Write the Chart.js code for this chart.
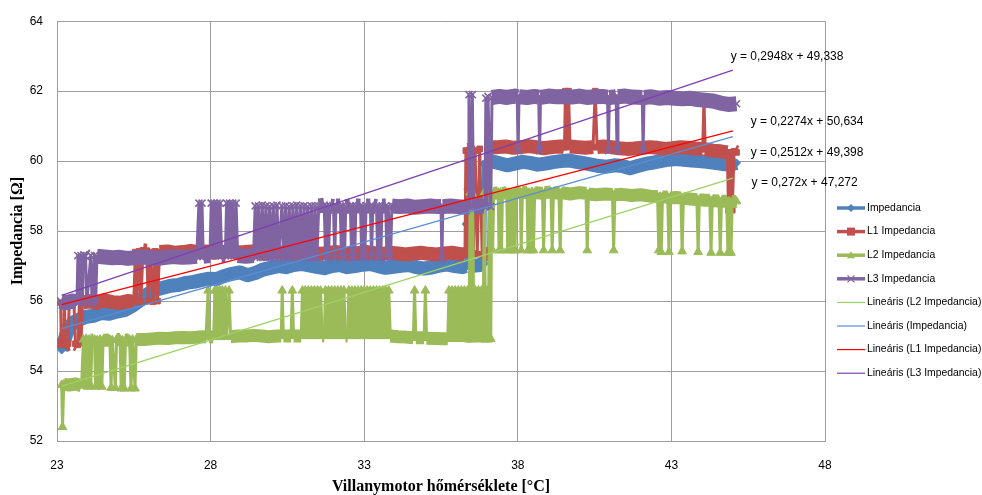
<!DOCTYPE html>
<html lang="hu">
<head>
<meta charset="utf-8">
<title>Impedancia – villanymotor hőmérséklete</title>
<script src="https://cdn.jsdelivr.net/npm/chart.js@4.4.1/dist/chart.umd.min.js"></script>
<style>
  html, body { margin: 0; padding: 0; background: #ffffff; }
  #wrap { position: relative; width: 982px; height: 495px; }
</style>
</head>
<body>
<div id="wrap"><canvas id="chart" width="982" height="495"></canvas></div>
<script>
// Axis ticks
const xTicks = [23, 28, 33, 38, 43, 48];
const yTicks = [52, 54, 56, 58, 60, 62, 64];

// Measured series: [motor temperature °C, impedance Ω]
const impedancia = [
  [23.15,54.60],[23.22,54.80],[23.30,55.05],[23.40,55.25],[23.55,55.40],[23.75,55.48],[23.95,55.55],
  [24.20,55.58],[24.45,55.66],[24.70,55.64],[24.95,55.70],[25.20,55.74],[25.45,55.86],[25.70,56.02],
  [25.95,56.20],[26.20,56.32],[26.45,56.38],[26.70,56.44],[26.95,56.46],[27.20,56.52],[27.45,56.55],
  [27.70,56.60],[27.95,56.64],[28.20,56.63],[28.45,56.72],[28.70,56.78],[28.95,56.82],[29.20,56.74],
  [29.45,56.80],[29.70,56.90],[29.95,56.95],[30.20,57.00],[30.45,56.97],[30.70,57.03],[30.95,57.06],
  [31.20,57.02],[31.45,56.98],[31.70,56.94],[31.95,57.00],[32.20,57.03],[32.45,56.97],[32.70,57.00],
  [32.95,57.04],[33.20,57.06],[33.45,57.00],[33.70,56.95],[33.95,56.98],[34.20,57.01],[34.45,57.03],
  [34.70,56.97],[34.95,56.93],[35.20,56.96],[35.45,57.01],[35.70,57.05],[35.95,57.00],[36.20,56.97],
  [36.30,57.00],[36.32,58.20],[36.34,57.00],[36.37,59.20],[36.40,57.02],[36.43,60.05],[36.46,57.00],
  [36.70,57.02],[36.85,57.05],[36.88,59.92],[36.92,57.08],[36.96,59.95],[37.15,60.00],[37.40,59.94],
  [37.65,59.88],[37.90,59.93],[38.15,59.98],[38.40,59.95],[38.65,59.90],[38.90,59.93],[39.15,59.97],
  [39.40,60.00],[39.65,60.02],[39.90,59.98],[40.15,59.94],[40.40,59.90],[40.65,59.86],[40.90,59.84],
  [41.15,59.88],[41.40,59.86],[41.65,59.80],[41.90,59.86],[42.15,59.92],[42.40,59.96],[42.65,60.00],
  [42.90,60.04],[43.15,60.06],[43.40,60.04],[43.65,60.02],[43.90,60.00],[44.15,59.98],[44.40,59.95],
  [44.65,59.92],[44.90,59.90],[45.12,59.95]
];

const l1Impedancia = [
  [23.12,55.95],[23.14,54.75],[23.20,54.80],[23.24,55.95],[23.28,54.75],[23.36,54.78],[23.40,55.98],
  [23.55,56.00],[23.60,54.78],[23.68,54.75],[23.73,56.00],[23.78,54.80],[23.83,55.95],[24.05,56.00],
  [24.30,55.95],[24.55,56.02],[24.80,55.97],[25.05,55.95],[25.30,56.00],[25.50,55.98],[25.55,57.40],
  [25.60,56.00],[25.67,57.42],[25.73,55.98],[25.80,57.45],[25.92,57.44],[25.97,56.00],[26.05,57.40],
  [26.12,55.98],[26.20,57.42],[26.27,56.00],[26.34,57.40],[26.60,57.42],[26.85,57.38],[27.10,57.40],
  [27.35,57.43],[27.60,57.40],[27.85,57.42],[28.10,57.38],[28.35,57.40],[28.60,57.42],[28.85,57.39],
  [29.10,57.40],[29.35,57.42],[29.60,57.38],[29.85,57.36],[30.10,57.40],[30.35,57.38],[30.60,57.35],
  [30.85,57.38],[31.10,57.40],[31.35,57.37],[31.60,57.35],[31.85,57.38],[32.10,57.40],[32.35,57.36],
  [32.60,57.34],[32.85,57.38],[33.10,57.40],[33.35,57.37],[33.60,57.35],[33.85,57.38],[34.10,57.36],
  [34.35,57.33],[34.60,57.36],[34.85,57.38],[35.10,57.35],[35.35,57.33],[35.60,57.36],[35.85,57.38],
  [36.10,57.35],[36.28,57.33],[36.31,60.30],[36.37,57.38],[36.41,60.32],[36.50,60.35],[36.55,57.36],
  [36.61,60.30],[36.68,57.34],[36.76,60.35],[36.84,57.33],[37.05,57.35],[37.10,60.40],[37.35,60.40],
  [37.60,60.42],[37.85,60.38],[38.10,60.40],[38.35,60.43],[38.60,60.40],[38.85,60.37],[39.10,60.40],
  [39.40,60.42],[39.52,60.40],[39.55,62.00],[39.60,60.40],[39.65,62.00],[39.70,60.42],[39.95,60.40],
  [40.20,60.38],[40.45,60.40],[40.52,62.00],[40.58,60.40],[40.80,60.42],[41.05,60.40],[41.30,60.37],
  [41.55,60.35],[41.80,60.36],[42.05,60.38],[42.30,60.40],[42.55,60.38],[42.80,60.35],[43.05,60.37],
  [43.30,60.40],[43.55,60.38],[43.80,60.36],[44.02,60.35],[44.06,61.85],[44.10,60.34],[44.35,60.30],
  [44.60,60.28],[44.82,60.25],[44.86,58.60],[44.92,60.25],[44.98,58.60],[45.04,60.28],[45.12,60.25]
];

const l2Impedancia = [
  [23.15,53.60],[23.18,52.40],[23.22,53.62],[23.40,53.60],[23.60,53.63],[23.80,53.58],[23.86,54.90],
  [23.90,53.60],[23.95,54.92],[24.00,53.55],[24.05,54.90],[24.10,53.58],[24.14,54.88],[24.22,54.90],
  [24.26,53.55],[24.31,54.88],[24.36,53.58],[24.40,54.90],[24.46,53.55],[24.50,54.88],[24.60,54.88],
  [24.72,54.90],[24.76,53.52],[24.80,54.88],[24.90,53.52],[24.94,54.90],[25.05,54.90],[25.09,53.50],
  [25.13,54.88],[25.19,53.50],[25.23,54.88],[25.36,54.90],[25.41,53.50],[25.46,54.90],[25.54,53.50],
  [25.58,54.90],[25.85,54.90],[26.10,54.92],[26.35,54.94],[26.60,54.93],[26.85,54.95],[27.10,54.96],
  [27.35,54.95],[27.60,54.97],[27.85,54.98],[27.92,56.30],[27.96,54.98],[28.10,54.97],[28.14,56.30],
  [28.18,54.98],[28.22,56.30],[28.26,54.98],[28.30,56.30],[28.34,54.97],[28.38,56.30],[28.42,54.98],
  [28.48,56.30],[28.52,54.98],[28.60,56.30],[28.65,54.98],[28.90,55.00],[29.15,55.00],[29.40,55.02],
  [29.65,55.00],[29.90,54.98],[30.15,55.00],[30.30,55.00],[30.33,56.30],[30.37,55.00],[30.62,55.00],
  [30.66,56.30],[30.70,55.00],[30.95,55.00],[30.99,56.30],[31.03,55.00],[31.08,56.30],[31.13,55.00],
  [31.18,56.30],[31.23,55.00],[31.28,56.30],[31.33,55.00],[31.38,56.30],[31.43,55.00],[31.48,56.30],
  [31.53,55.00],[31.58,56.30],[31.63,55.00],[31.70,55.00],[31.74,56.30],[31.79,55.00],[31.84,56.30],
  [31.89,55.00],[31.94,56.30],[31.99,55.00],[32.04,56.30],[32.09,55.00],[32.14,56.30],[32.19,55.00],
  [32.24,56.30],[32.29,55.00],[32.34,56.30],[32.39,55.00],[32.46,55.00],[32.50,56.30],[32.55,55.00],
  [32.60,56.30],[32.65,55.00],[32.70,56.30],[32.75,55.00],[32.80,56.30],[32.85,55.00],[32.90,56.30],
  [32.95,55.00],[33.00,56.30],[33.05,55.00],[33.10,56.30],[33.15,55.00],[33.20,56.30],[33.25,55.00],
  [33.30,56.30],[33.35,55.00],[33.40,56.30],[33.45,55.00],[33.50,56.30],[33.55,55.00],[33.60,56.30],
  [33.65,55.00],[33.70,56.30],[33.75,55.00],[33.80,56.30],[33.85,55.00],[34.10,54.98],[34.35,54.97],
  [34.60,54.95],[34.64,56.30],[34.68,54.95],[34.95,54.95],[34.99,56.30],[35.03,54.94],[35.30,54.93],
  [35.60,54.92],[35.72,54.92],[35.76,56.30],[35.81,54.92],[35.86,56.30],[35.91,54.92],[35.96,56.30],
  [36.01,54.92],[36.06,56.30],[36.11,54.92],[36.16,56.30],[36.21,54.92],[36.26,56.30],[36.31,54.92],
  [36.36,56.30],[36.41,54.90],[36.45,59.10],[36.49,54.90],[36.53,59.05],[36.57,54.92],[36.62,56.30],
  [36.67,54.92],[36.72,56.30],[36.77,54.90],[36.82,56.30],[36.87,54.92],[36.91,59.10],[36.95,54.90],
  [37.00,56.30],[37.04,54.90],[37.08,59.10],[37.12,54.92],[37.15,59.05],[37.18,57.45],[37.22,59.08],
  [37.36,59.10],[37.39,57.45],[37.43,59.10],[37.47,57.45],[37.50,59.08],[37.64,59.10],[37.67,57.45],
  [37.71,59.10],[37.75,57.45],[37.79,59.08],[37.83,57.45],[37.87,59.10],[37.91,57.45],[37.95,59.10],
  [38.08,59.12],[38.11,57.45],[38.15,59.10],[38.30,59.10],[38.33,57.45],[38.37,59.10],[38.42,57.45],
  [38.46,59.12],[38.51,57.45],[38.55,59.10],[38.80,59.08],[38.84,57.45],[38.88,59.10],[39.08,59.12],
  [39.12,57.45],[39.16,59.10],[39.34,59.08],[39.38,57.45],[39.42,59.10],[39.70,59.06],[40.00,59.10],
  [40.22,59.08],[40.26,57.45],[40.30,59.06],[40.55,59.04],[40.85,59.06],[41.08,59.05],[41.12,57.45],
  [41.16,59.04],[41.40,59.05],[41.70,59.02],[42.00,59.04],[42.30,59.00],[42.55,58.98],[42.59,57.45],
  [42.63,58.98],[42.67,57.40],[42.71,58.98],[42.88,58.97],[42.92,57.40],[42.96,58.95],[43.15,58.96],
  [43.31,58.95],[43.35,57.42],[43.39,58.94],[43.60,58.92],[43.83,58.90],[43.87,57.40],[43.91,58.90],
  [44.10,58.88],[44.25,58.88],[44.29,57.38],[44.33,58.87],[44.55,58.86],[44.59,57.38],[44.63,58.85],
  [44.80,58.85],[44.84,57.38],[44.88,58.85],[44.94,57.38],[44.98,58.84],[45.12,58.85]
];

const l3Impedancia = [
  [23.12,56.00],[23.30,55.95],[23.50,56.00],[23.65,55.97],[23.68,57.30],[23.72,55.97],[23.78,57.30],
  [23.82,55.95],[23.88,57.32],[23.93,57.28],[23.97,55.96],[24.10,57.30],[24.14,55.95],[24.22,57.30],
  [24.26,55.97],[24.30,57.28],[24.55,57.26],[24.80,57.24],[25.05,57.25],[25.30,57.22],[25.55,57.24],
  [25.80,57.26],[26.05,57.24],[26.30,57.22],[26.55,57.25],[26.80,57.27],[27.05,57.25],[27.30,57.26],
  [27.55,57.28],[27.62,58.80],[27.66,57.28],[27.72,58.80],[27.76,57.28],[27.98,57.30],[28.02,58.80],
  [28.06,57.30],[28.11,58.80],[28.16,57.30],[28.21,58.80],[28.26,57.30],[28.31,58.80],[28.36,57.30],
  [28.48,57.30],[28.52,58.80],[28.57,57.30],[28.62,58.80],[28.67,57.30],[28.72,58.80],[28.77,57.30],
  [28.83,58.80],[28.88,57.30],[29.15,57.28],[29.40,57.30],[29.45,58.72],[29.50,57.25],[29.56,58.72],
  [29.62,57.25],[29.68,58.74],[29.74,57.25],[29.80,58.72],[29.86,57.25],[29.92,58.70],[29.98,57.25],
  [30.04,58.72],[30.10,57.25],[30.16,58.74],[30.22,57.25],[30.32,58.72],[30.38,57.25],[30.44,58.72],
  [30.50,57.25],[30.56,58.70],[30.62,57.25],[30.68,58.72],[30.74,57.25],[30.80,58.74],[30.86,57.25],
  [30.92,58.72],[30.98,57.25],[31.04,58.72],[31.10,57.25],[31.16,58.70],[31.22,57.25],[31.28,58.72],
  [31.34,57.25],[31.40,58.72],[31.46,57.25],[31.52,58.72],[31.70,58.74],[31.74,57.25],[31.78,58.72],
  [31.84,57.25],[31.88,58.72],[32.00,58.70],[32.04,57.25],[32.08,58.72],[32.22,58.72],[32.26,57.25],
  [32.30,58.72],[32.36,57.25],[32.40,58.70],[32.55,58.72],[32.59,57.25],[32.63,58.72],[32.69,57.25],
  [32.73,58.72],[32.88,58.72],[32.92,57.25],[32.96,58.70],[33.02,57.25],[33.06,58.72],[33.20,58.72],
  [33.24,57.25],[33.28,58.72],[33.40,58.70],[33.44,57.25],[33.48,58.72],[33.54,57.25],[33.58,58.72],
  [33.70,58.72],[33.74,57.25],[33.78,58.70],[33.86,57.25],[33.90,58.72],[34.15,58.70],[34.40,58.72],
  [34.65,58.68],[34.90,58.70],[35.15,58.72],[35.40,58.70],[35.50,58.70],[35.53,57.20],[35.56,58.70],
  [35.80,58.72],[36.05,58.70],[36.30,58.68],[36.38,58.70],[36.41,61.90],[36.45,58.70],[36.52,61.90],
  [36.56,58.70],[36.80,58.72],[36.93,58.70],[36.96,61.80],[37.00,58.72],[37.03,61.85],[37.12,58.70],
  [37.16,61.82],[37.40,61.85],[37.65,61.82],[37.90,61.86],[37.98,61.84],[38.01,60.30],[38.04,61.84],
  [38.30,61.82],[38.55,61.85],[38.68,61.83],[38.71,60.30],[38.74,61.82],[39.00,61.86],[39.25,61.84],
  [39.50,61.85],[39.75,61.83],[40.00,61.86],[40.25,61.82],[40.50,61.84],[40.75,61.85],[40.92,61.83],
  [40.95,60.30],[40.98,61.82],[41.20,61.84],[41.23,60.30],[41.26,61.84],[41.50,61.86],[41.75,61.83],
  [42.05,61.82],[42.08,60.30],[42.11,61.82],[42.35,61.84],[42.60,61.80],[42.85,61.82],[43.10,61.80],
  [43.35,61.78],[43.60,61.80],[43.85,61.76],[44.10,61.74],[44.35,61.72],[44.60,61.66],[44.85,61.62],
  [45.12,61.64]
];

// Linear trendlines: [slope, intercept] and the temperature range they span
const trendImpedancia = [0.2512, 49.398];
const trendL1 = [0.2274, 50.634];
const trendL2 = [0.272, 47.272];
const trendL3 = [0.2948, 49.338];
const trendRange = [23.15, 45.0];

// ---------------------------------------------------------------
const COLORS = {
  imp: '#4F81BD', l1: '#C0504D', l2: '#9BBB59', l3: '#8064A2',
  tImp: '#5B8DD3', tL1: '#FF0000', tL2: '#9ED163', tL3: '#7E3FB0'
};
const SPIKE_WIDTH = 3;

const toPoints = rows => rows.map(([x, y]) => ({ x, y }));
const trendPoints = ([m, b]) => trendRange.map(x => ({ x, y: m * x + b }));
const fmtNum = v => String(v).replace('.', ',');
const eqText = ([m, b]) => 'y = ' + fmtNum(m) + 'x + ' + fmtNum(b);

// steep jumps are thin strokes, the dense band is a wide stroke
const bandWidth = w => ctx => Math.abs(ctx.p1.y - ctx.p0.y) > 16 ? SPIKE_WIDTH : w;

function seriesDataset(label, rows, color, style, radius, band, order) {
  return {
    label, data: toPoints(rows), order,
    borderColor: color, backgroundColor: color,
    borderWidth: band, borderJoinStyle: 'round', borderCapStyle: 'butt',
    pointStyle: style, pointRadius: radius, pointBorderWidth: style === 'crossRot' ? 1.6 : 1,
    pointBackgroundColor: color, pointBorderColor: color, pointHoverRadius: radius,
    tension: 0, segment: { borderWidth: bandWidth(band) }
  };
}
function trendDataset(label, coef, color) {
  return {
    label, data: trendPoints(coef), order: 0,
    borderColor: color, backgroundColor: color, borderWidth: 1.3,
    pointRadius: 0, pointHoverRadius: 0, tension: 0
  };
}

const datasets = [
  seriesDataset('Impedancia', impedancia, COLORS.imp, 'rectRot', 4, 14, 4),
  seriesDataset('L1 Impedancia', l1Impedancia, COLORS.l1, 'rect', 4, 14, 3),
  seriesDataset('L2 Impedancia', l2Impedancia, COLORS.l2, 'triangle', 5, 13, 2),
  seriesDataset('L3 Impedancia', l3Impedancia, COLORS.l3, 'crossRot', 5, 15, 1),
  trendDataset('Lineáris (L2 Impedancia)', trendL2, COLORS.tL2),
  trendDataset('Lineáris (Impedancia)', trendImpedancia, COLORS.tImp),
  trendDataset('Lineáris (L1 Impedancia)', trendL1, COLORS.tL1),
  trendDataset('Lineáris (L3 Impedancia)', trendL3, COLORS.tL3)
];

// Trendline equations, anchored in data coordinates next to each line end
const equations = [
  { text: eqText(trendL3), x: 44.93, y: 62.98 },
  { text: eqText(trendL1), x: 45.58, y: 61.13 },
  { text: eqText(trendImpedancia), x: 45.58, y: 60.24 },
  { text: eqText(trendL2), x: 45.61, y: 59.38 }
];

// Legend entries (series first, then trendlines)
const legendItems = [
  { text: 'Impedancia', color: COLORS.imp, width: 3.5, marker: 'diamond' },
  { text: 'L1 Impedancia', color: COLORS.l1, width: 3.5, marker: 'square' },
  { text: 'L2 Impedancia', color: COLORS.l2, width: 3.5, marker: 'triangle' },
  { text: 'L3 Impedancia', color: COLORS.l3, width: 3.5, marker: 'x' },
  { text: 'Lineáris (L2 Impedancia)', color: COLORS.tL2, width: 1.2 },
  { text: 'Lineáris (Impedancia)', color: COLORS.tImp, width: 1.2 },
  { text: 'Lineáris (L1 Impedancia)', color: COLORS.tL1, width: 1.2 },
  { text: 'Lineáris (L3 Impedancia)', color: COLORS.tL3, width: 1.2 }
];

function drawMarker(ctx, kind, x, y, color) {
  ctx.save();
  ctx.fillStyle = color; ctx.strokeStyle = color;
  ctx.beginPath();
  if (kind === 'diamond') {
    ctx.moveTo(x, y - 4); ctx.lineTo(x + 4, y); ctx.lineTo(x, y + 4); ctx.lineTo(x - 4, y);
    ctx.closePath(); ctx.fill();
  } else if (kind === 'square') {
    ctx.rect(x - 4, y - 4, 8, 8); ctx.fill();
  } else if (kind === 'triangle') {
    ctx.moveTo(x, y - 4); ctx.lineTo(x + 4, y + 3); ctx.lineTo(x - 4, y + 3);
    ctx.closePath(); ctx.fill();
  } else if (kind === 'x') {
    ctx.lineWidth = 1.2;
    ctx.moveTo(x - 3.5, y - 3.5); ctx.lineTo(x + 3.5, y + 3.5);
    ctx.moveTo(x + 3.5, y - 3.5); ctx.lineTo(x - 3.5, y + 3.5);
    ctx.stroke();
  }
  ctx.restore();
}

const annotations = {
  id: 'annotations',
  afterDatasetsDraw(chart) {
    const { ctx, scales: { x, y } } = chart;
    ctx.save();
    ctx.font = '12px "Liberation Sans", Arial, sans-serif';
    ctx.fillStyle = '#000000';
    ctx.textAlign = 'left';
    ctx.textBaseline = 'middle';
    equations.forEach(e => ctx.fillText(e.text, x.getPixelForValue(e.x), y.getPixelForValue(e.y)));
    ctx.restore();
  },
  afterDraw(chart) {
    const { ctx } = chart;
    const x0 = 837, x1 = 865, top = 208, step = 23.6;
    ctx.save();
    ctx.font = '10.4px "Liberation Sans", Arial, sans-serif';
    ctx.textAlign = 'left';
    ctx.textBaseline = 'middle';
    legendItems.forEach((item, i) => {
      const yy = top + i * step;
      ctx.strokeStyle = item.color;
      ctx.lineWidth = item.width;
      ctx.beginPath(); ctx.moveTo(x0, yy); ctx.lineTo(x1, yy); ctx.stroke();
      if (item.marker) drawMarker(ctx, item.marker, (x0 + x1) / 2, yy, item.color);
      ctx.fillStyle = '#000000';
      ctx.fillText(item.text, x1 + 2, yy);
    });
    ctx.restore();
  }
};

const GRID = '#9d9d9d';
const tickFont = { family: '"Liberation Sans", Arial, sans-serif', size: 12 };
const titleFont = { family: '"Liberation Serif", "Times New Roman", serif', size: 16, weight: 'bold' };

new Chart(document.getElementById('chart'), {
  type: 'line',
  data: { datasets },
  options: {
    responsive: false,
    animation: false,
    events: [],
    layout: { padding: { top: 18, right: 157, left: 0, bottom: 0 } },
    plugins: { legend: { display: false }, tooltip: { enabled: false } },
    scales: {
      x: {
        type: 'linear', min: xTicks[0], max: xTicks[xTicks.length - 1],
        afterBuildTicks: s => { s.ticks = xTicks.map(v => ({ value: v })); },
        afterFit: s => { s.height = 54; },
        grid: { color: GRID, lineWidth: 1, drawTicks: false },
        border: { color: GRID, width: 1 },
        ticks: { font: tickFont, color: '#000000', padding: 17, maxRotation: 0 },
        title: { display: true, text: 'Villanymotor hőmérséklete [°C]', color: '#000000',
                 font: Object.assign({ lineHeight: 1 }, titleFont), padding: { top: 0, bottom: 0 } }
      },
      y: {
        type: 'linear', min: yTicks[0], max: yTicks[yTicks.length - 1],
        afterBuildTicks: s => { s.ticks = yTicks.map(v => ({ value: v })); },
        afterFit: s => { s.width = 57; },
        grid: { color: GRID, lineWidth: 1, drawTicks: false },
        border: { color: GRID, width: 1 },
        ticks: { font: tickFont, color: '#000000', padding: 14 },
        title: { display: true, text: 'Impedancia [Ω]', color: '#000000',
                 font: Object.assign({ lineHeight: 1.2 }, titleFont), padding: { top: 8, bottom: 0 } }
      }
    }
  },
  plugins: [annotations]
});
</script>
</body>
</html>
